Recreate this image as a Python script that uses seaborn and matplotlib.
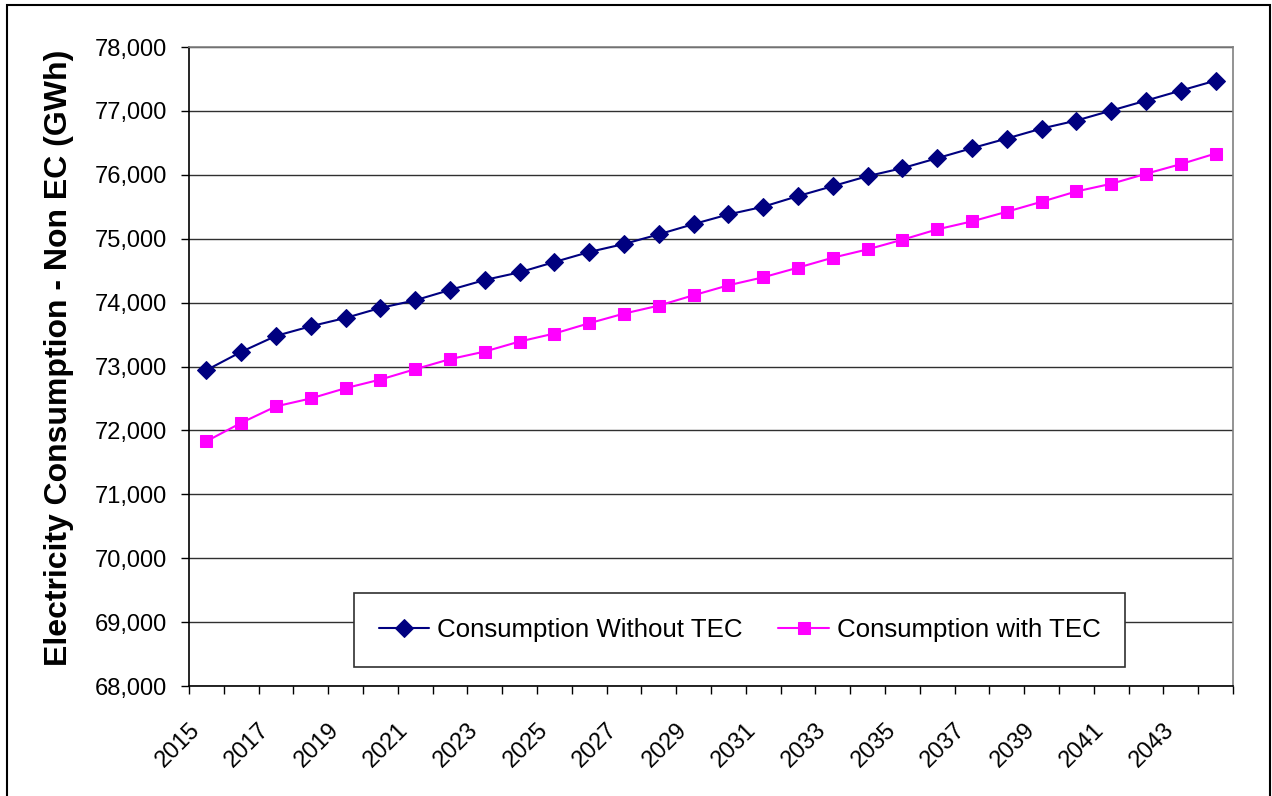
import numpy as np
import pandas as pd
import matplotlib
matplotlib.use("Agg")
import matplotlib.pyplot as plt
import seaborn as sns
from matplotlib.ticker import FuncFormatter, FixedLocator
from matplotlib.patches import Rectangle
from matplotlib.transforms import ScaledTranslation

years = list(range(2015, 2045))
without_tec = [72943, 73229, 73479, 73630, 73760, 73917, 74036, 74198, 74354, 74474,
               74635, 74792, 74917, 75068, 75229, 75380, 75500, 75667, 75823, 75979,
               76104, 76260, 76417, 76568, 76724, 76849, 77005, 77161, 77318, 77474]
with_tec = [71830, 72118, 72376, 72500, 72661, 72796, 72958, 73115, 73234, 73391,
            73516, 73677, 73828, 73953, 74115, 74271, 74396, 74547, 74703, 74833,
            74984, 75146, 75271, 75422, 75578, 75740, 75859, 76016, 76167, 76333]
series_names = ["Consumption Without TEC", "Consumption with TEC"]
y_ticks = list(range(68000, 78001, 1000))
y_label = "Electricity Consumption - Non EC (GWh)"

sns.set_theme(style="white")
plt.rcParams['font.family'] = ['Liberation Sans', 'DejaVu Sans']

W, H = 1272, 796
fig = plt.figure(figsize=(W / 100, H / 100), dpi=100)
ax = fig.add_axes([189 / W, 1 - 686 / H, (1233 - 189) / W, (686 - 47) / H])

df1 = pd.DataFrame({"year": years, "value": without_tec})
df2 = pd.DataFrame({"year": years, "value": with_tec})
sns.lineplot(data=df1, x="year", y="value", ax=ax, color="#000080", marker="D",
             markersize=9.5, linewidth=1.5, markeredgecolor="#000080", label=series_names[0])
sns.lineplot(data=df2, x="year", y="value", ax=ax, color="#FF00FF", marker="s",
             markersize=8.7, linewidth=1.5, markeredgecolor="#FF00FF", label=series_names[1])

ax.set_xlim(years[0] - 0.5, years[-1] + 0.5)
ax.set_ylim(y_ticks[0], y_ticks[-1])
ax.set_yticks(y_ticks)
ax.yaxis.set_major_formatter(FuncFormatter(lambda v, p: f"{int(v):,}"))
ax.grid(axis="y", color="#303030", linewidth=1)
ax.grid(axis="x", visible=False)
ax.set_axisbelow(True)

ax.set_xticks(years[::2])
ax.set_xticklabels([str(y) for y in years[::2]])
ax.xaxis.set_minor_locator(FixedLocator(np.arange(years[0] - 0.5, years[-1] + 0.51, 1.0)))
ax.tick_params(axis="x", which="major", length=0, pad=29, labelsize=17, colors="black")
ax.tick_params(axis="x", which="minor", length=6, width=1, direction="out", color="black", bottom=True)
ax.tick_params(axis="y", which="major", length=6, width=1, direction="out", color="black",
               left=True, pad=10, labelsize=17, labelcolor="black")
shift = ScaledTranslation(-10 / 100, 0, fig.dpi_scale_trans)
for lab in ax.get_xticklabels():
    lab.set_rotation(45)
    lab.set_ha("right")
    lab.set_va("center")
    lab.set_rotation_mode("anchor")
    lab.set_transform(lab.get_transform() + shift)

ax.set_xlabel("")
ax.set_ylabel("")
for s in ["left", "bottom"]:
    ax.spines[s].set_color("black")
    ax.spines[s].set_linewidth(1.2)
for s in ["top", "right"]:
    ax.spines[s].set_color("#808080")
    ax.spines[s].set_linewidth(1.2)

fig.text(59 / W, 1 - 358 / H, y_label, rotation=90, ha="center", va="center",
         fontsize=23, fontweight="bold", color="black")

handles, labels = ax.get_legend_handles_labels()
leg = ax.legend(handles, labels, loc="center", bbox_to_anchor=(739.5 / W, 1 - 630 / H),
                bbox_transform=fig.transFigure, ncol=2, fontsize=18.6, frameon=True,
                fancybox=False, shadow=False, framealpha=1, edgecolor="#303030",
                borderpad=0.95, handlelength=1.95, handletextpad=0.3, columnspacing=1.4,
                borderaxespad=0)
leg.get_frame().set_linewidth(1.2)
for t in leg.get_texts():
    t.set_color("black")

fig.patches.append(Rectangle((7 / W, -0.05), (1270 - 7) / W, 1 - 5 / H + 0.05,
                             transform=fig.transFigure, fill=False, edgecolor="black",
                             linewidth=1.5))

fig.savefig("out.png", dpi=100, facecolor="white")
